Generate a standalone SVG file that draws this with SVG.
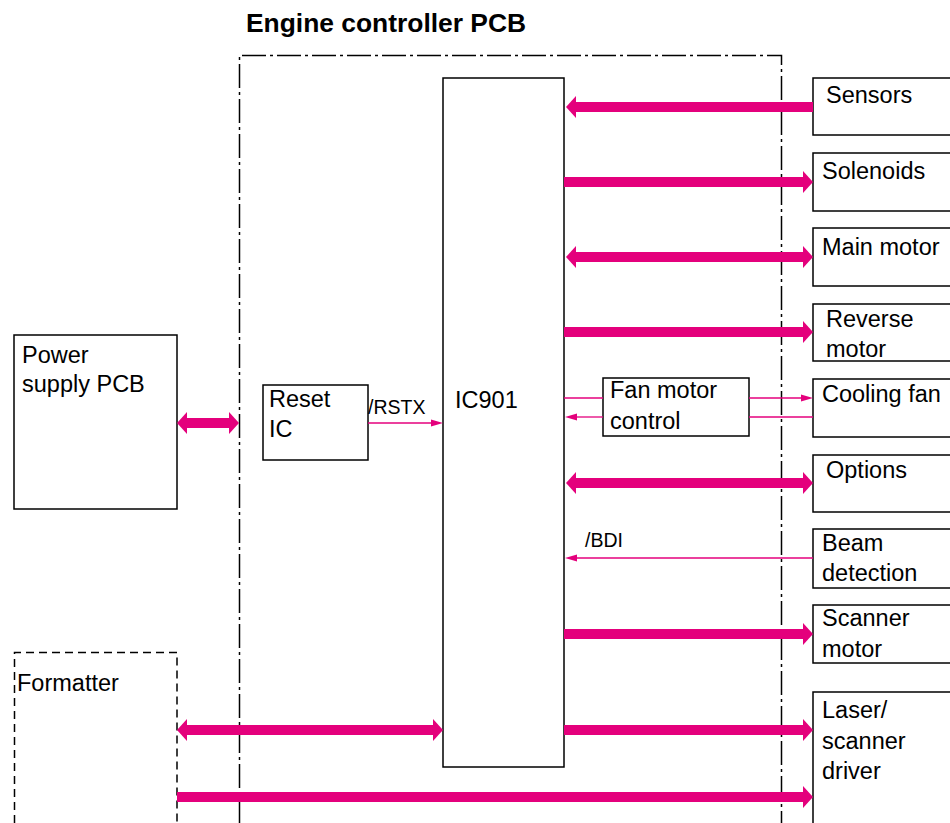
<svg xmlns="http://www.w3.org/2000/svg" width="950" height="823" viewBox="0 0 950 823">
<style>
  .box { fill: #fff; stroke: #000; stroke-width: 1.5; }
  .t { font-family: "Liberation Sans", Arial, sans-serif; font-size: 23.5px; fill: #000; }
  .s { font-family: "Liberation Sans", Arial, sans-serif; font-size: 19.5px; fill: #000; }
  .title { font-family: "Liberation Sans", Arial, sans-serif; font-size: 26.4px; font-weight: bold; fill: #000; }
  .frame { fill: none; stroke: #000; stroke-width: 1.5; stroke-dasharray: 24 4 3 4; }
  .dash { fill: none; stroke: #000; stroke-width: 1.5; stroke-dasharray: 8 5; }
  .thick { stroke: #E4007C; stroke-width: 10; fill: none; }
  .thin { stroke: #E4007C; stroke-width: 1.3; fill: none; }
</style>
<defs>
  <marker id="bigHead" markerUnits="userSpaceOnUse" markerWidth="12" markerHeight="24" viewBox="0 -12 12 24" refX="0" refY="0" orient="auto-start-reverse" overflow="visible">
    <path d="M0,-11 L10,0 L0,11 z" fill="#E4007C"/>
  </marker>
  <marker id="smallHead" markerUnits="userSpaceOnUse" markerWidth="14" markerHeight="8" viewBox="0 -4 14 8" refX="0" refY="0" orient="auto-start-reverse" overflow="visible">
    <path d="M0,-3.6 L12,0 L0,3.6 z" fill="#E4007C"/>
  </marker>
</defs>
<rect width="950" height="823" fill="#fff"/>

<text class="title" x="246" y="32">Engine controller PCB</text>

<g id="engine-frame">
  <path class="frame" d="M239.5,823 L239.5,55.5 L781.5,55.5 L781.5,823"/>
</g>

<g id="formatter">
  <path class="dash" d="M14.5,823 L14.5,652.5 L177,652.5 L177,823"/>
  <text class="t" x="17" y="691">Formatter</text>
</g>

<g id="power-supply">
  <rect class="box" x="14" y="335" width="163" height="174"/>
  <text class="t" x="22" y="363">Power</text>
  <text class="t" x="22" y="392">supply PCB</text>
</g>

<g id="reset-ic">
  <rect class="box" x="263" y="385" width="105" height="75"/>
  <text class="t" x="269" y="407">Reset</text>
  <text class="t" x="269" y="437">IC</text>
</g>

<g id="ic901">
  <rect class="box" x="443" y="78" width="121" height="689"/>
  <text class="t" x="455" y="408">IC901</text>
</g>

<g id="fan-motor-control">
  <rect class="box" x="603" y="378" width="146" height="58"/>
  <text class="t" x="610" y="398">Fan motor</text>
  <text class="t" x="610" y="429">control</text>
</g>

<g id="sensors">
  <rect class="box" x="813" y="78" width="140" height="57"/>
  <text class="t" x="826" y="103">Sensors</text>
</g>
<g id="solenoids">
  <rect class="box" x="813" y="153" width="140" height="58"/>
  <text class="t" x="822" y="179">Solenoids</text>
</g>
<g id="main-motor">
  <rect class="box" x="813" y="228" width="140" height="58"/>
  <text class="t" x="822" y="255">Main motor</text>
</g>
<g id="reverse-motor">
  <rect class="box" x="813" y="304" width="140" height="57"/>
  <text class="t" x="826" y="327">Reverse</text>
  <text class="t" x="826" y="357">motor</text>
</g>
<g id="cooling-fan">
  <rect class="box" x="813" y="379" width="140" height="58"/>
  <text class="t" x="822" y="402">Cooling fan</text>
</g>
<g id="options">
  <rect class="box" x="813" y="455" width="140" height="57"/>
  <text class="t" x="826" y="478">Options</text>
</g>
<g id="beam-detection">
  <rect class="box" x="813" y="529" width="140" height="59"/>
  <text class="t" x="822" y="551">Beam</text>
  <text class="t" x="822" y="581">detection</text>
</g>
<g id="scanner-motor">
  <rect class="box" x="813" y="605" width="140" height="58"/>
  <text class="t" x="822" y="626">Scanner</text>
  <text class="t" x="822" y="657">motor</text>
</g>
<g id="laser-scanner-driver">
  <rect class="box" x="813" y="692" width="140" height="140"/>
  <text class="t" x="822" y="718">Laser/</text>
  <text class="t" x="822" y="749">scanner</text>
  <text class="t" x="822" y="779">driver</text>
</g>

<g id="connectors">
  <line class="thick" x1="813" y1="107" x2="576" y2="107" marker-end="url(#bigHead)"/>
  <line class="thick" x1="564" y1="182" x2="803" y2="182" marker-end="url(#bigHead)"/>
  <line class="thick" x1="576" y1="257" x2="803" y2="257" marker-start="url(#bigHead)" marker-end="url(#bigHead)"/>
  <line class="thick" x1="564" y1="332" x2="803" y2="332" marker-end="url(#bigHead)"/>
  <line class="thin" x1="564" y1="398" x2="603" y2="398"/>
  <line class="thin" x1="749" y1="398" x2="801" y2="398" marker-end="url(#smallHead)"/>
  <line class="thin" x1="813" y1="417" x2="749" y2="417"/>
  <line class="thin" x1="603" y1="417" x2="577" y2="417" marker-end="url(#smallHead)"/>
  <line class="thick" x1="576" y1="483" x2="803" y2="483" marker-start="url(#bigHead)" marker-end="url(#bigHead)"/>
  <line class="thin" x1="813" y1="558" x2="577" y2="558" marker-end="url(#smallHead)"/>
  <text class="s" x="585" y="547">/BDI</text>
  <line class="thick" x1="564" y1="634" x2="803" y2="634" marker-end="url(#bigHead)"/>
  <line class="thick" x1="564" y1="730" x2="803" y2="730" marker-end="url(#bigHead)"/>
  <line class="thick" x1="187" y1="730" x2="433" y2="730" marker-start="url(#bigHead)" marker-end="url(#bigHead)"/>
  <line class="thick" x1="177" y1="797" x2="803" y2="797" marker-end="url(#bigHead)"/>
  <line class="thick" x1="187" y1="423" x2="229" y2="423" marker-start="url(#bigHead)" marker-end="url(#bigHead)"/>
  <line class="thin" x1="368" y1="423" x2="431" y2="423" marker-end="url(#smallHead)"/>
  <text class="s" x="368" y="414">/RSTX</text>
</g>
</svg>
